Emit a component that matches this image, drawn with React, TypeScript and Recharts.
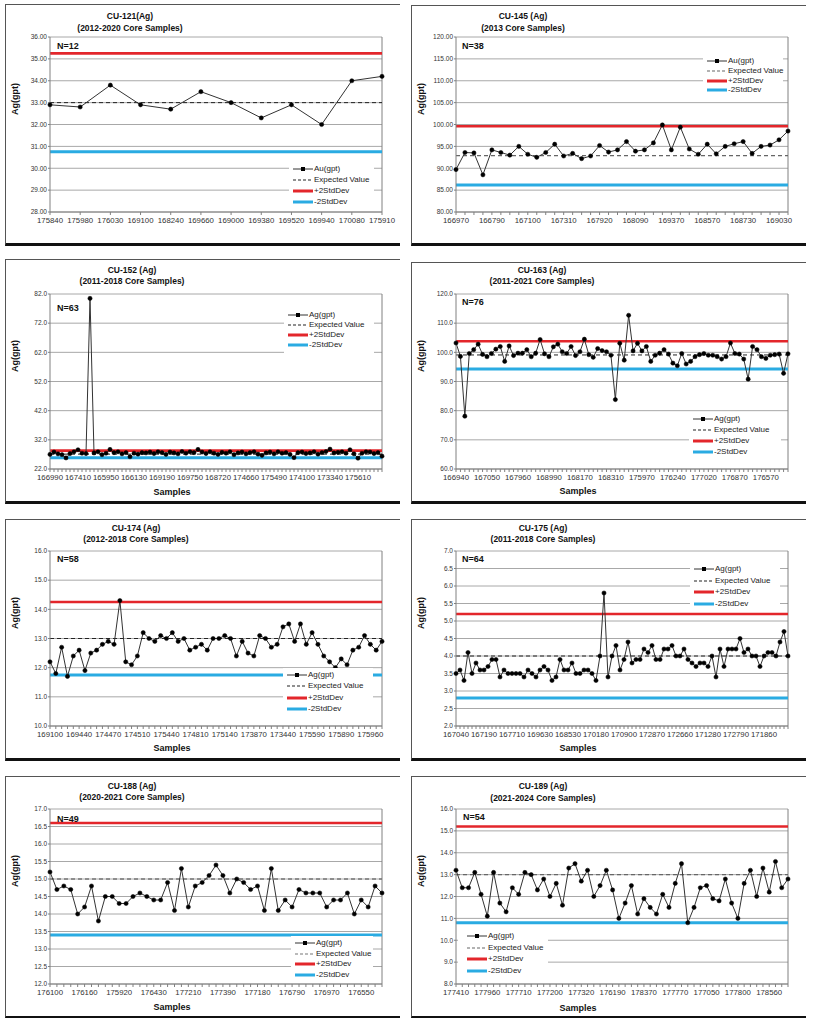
import { CartesianGrid, Line, LineChart, ReferenceLine, XAxis, YAxis } from "recharts";

const FONT = '"Liberation Sans", Arial, sans-serif';

// CU-121 (2012-2020)
const cu121Samples = ["175840", "175980", "176030", "169100", "168240", "169660", "169000", "169380", "169520", "169940", "170080", "175910"];
const cu121Ag = [32.9, 32.8, 33.8, 32.9, 32.7, 33.5, 33.0, 32.3, 32.9, 32.0, 34.0, 34.2];
const cu121Limits = [33.0, 35.25, 30.75];
const cu121Ticks = [28, 29, 30, 31, 32, 33, 34, 35, 36];

// CU-145 (2013)
const cu145Samples = ["166970", "166790", "167100", "167310", "167920", "168090", "169370", "168570", "168730", "169030"];
const cu145Ag = [89.7, 93.6, 93.5, 88.5, 94.2, 93.6, 93.0, 95.0, 93.2, 92.5, 93.6, 95.5, 92.8, 93.4, 92.2, 92.8, 95.2, 93.7, 94.2, 96.1, 93.9, 94.2, 95.8, 99.9, 94.2, 99.4, 94.4, 93.2, 95.5, 93.3, 95.0, 95.6, 96.1, 93.4, 95.0, 95.3, 96.5, 98.5];
const cu145Limits = [92.9, 99.6, 86.2];
const cu145Ticks = [80, 85, 90, 95, 100, 105, 110, 115, 120];

// CU-152 (2011-2018)
const cu152Samples = ["166990", "167410", "165950", "166130", "169190", "169750", "168720", "174660", "175490", "174100", "173340", "175610"];
const cu152Ag = [
  27.0, 27.8, 27.2, 26.9, 25.8, 27.3, 27.9, 28.6, 27.4, 27.3, 80.5, 27.5, 27.9, 26.9, 27.4, 28.7, 27.6, 27.9, 27.2, 27.6,
  26.2, 27.4, 27.1, 27.6, 27.5, 27.8, 27.3, 27.9, 27.6, 27.0, 27.8, 27.5, 27.2, 28.0, 27.4, 27.9, 27.6, 28.7, 27.8, 27.3,
  27.9, 27.4, 27.0, 27.7, 27.4, 27.9, 26.9, 27.5, 27.8, 27.2, 27.6, 27.9, 27.1, 26.7, 27.5, 27.8, 27.2, 27.9, 27.4, 27.6,
  27.0, 25.9, 27.6, 27.8, 27.3, 27.5, 27.9, 27.1, 27.6, 28.0, 28.8, 27.5, 27.7, 27.9, 27.4, 28.6, 27.2, 25.7, 27.4, 27.9,
  27.8, 27.3, 27.6, 26.4,
];
const cu152Limits = [27.1, 28.3, 25.9];
const cu152Ticks = [22, 32, 42, 52, 62, 72, 82];

// CU-163 (2011-2021)
const cu163Samples = ["166940", "167050", "167960", "168990", "168170", "168310", "175970", "176240", "177020", "176870", "176570"];
const cu163Ag = [
  103.2, 98.6, 78.1, 99.6, 100.9, 102.8, 99.3, 98.5, 99.6, 101.1, 102.0, 96.9, 102.2, 98.9, 99.7, 99.7, 100.9, 98.5, 99.7, 104.4,
  99.5, 98.5, 101.9, 102.8, 100.2, 99.6, 102.0, 98.9, 100.2, 104.5, 99.2, 98.3, 101.3, 100.6, 100.2, 99.0, 83.8, 103.1, 97.3, 112.7,
  100.5, 103.1, 100.5, 102.0, 96.9, 99.0, 99.7, 100.9, 99.4, 96.3, 95.4, 99.6, 96.0, 96.9, 98.5, 99.2, 99.6, 99.0, 99.0, 98.5,
  97.7, 98.5, 103.2, 99.6, 99.4, 97.7, 90.8, 102.0, 100.9, 98.5, 97.9, 99.0, 99.2, 99.4, 92.8, 99.5,
];
const cu163Limits = [99.1, 103.8, 94.3];
const cu163Ticks = [60, 70, 80, 90, 100, 110, 120];

// CU-174 (2012-2018)
const cu174Samples = ["169100", "169440", "174470", "174510", "175440", "174810", "175140", "173870", "173440", "175590", "175890", "175960"];
const cu174Ag = [
  12.2, 11.8, 12.7, 11.7, 12.4, 12.6, 11.9, 12.5, 12.6, 12.8, 12.9, 12.8, 14.3, 12.2, 12.1, 12.4, 13.2, 13.0, 12.9, 13.1,
  13.0, 13.2, 12.9, 13.0, 12.6, 12.7, 12.8, 12.6, 13.0, 13.0, 13.1, 13.0, 12.4, 12.9, 12.5, 12.4, 13.1, 13.0, 12.7, 12.8,
  13.4, 13.5, 12.9, 13.5, 12.8, 13.2, 12.8, 12.4, 12.2, 12.0, 12.3, 12.1, 12.6, 12.7, 13.1, 12.8, 12.6, 12.9,
];
const cu174Limits = [13.0, 14.25, 11.75];
const cu174Ticks = [10, 11, 12, 13, 14, 15, 16];

// CU-175 (2011-2018)
const cu175Samples = ["167040", "167190", "167710", "169630", "168530", "170180", "170900", "172870", "172660", "171280", "172790", "171860"];
const cu175Ag = [
  3.5, 3.6, 3.3, 4.1, 3.5, 3.8, 3.6, 3.6, 3.7, 3.9, 3.9, 3.4, 3.6, 3.5, 3.5, 3.5, 3.5, 3.4, 3.6, 3.5,
  3.4, 3.6, 3.7, 3.6, 3.3, 3.4, 3.9, 3.6, 3.6, 3.8, 3.5, 3.5, 3.6, 3.6, 3.5, 3.3, 4.0, 5.8, 3.4, 4.0,
  4.3, 3.6, 3.9, 4.4, 3.8, 3.9, 3.9, 4.2, 4.1, 4.3, 3.9, 3.9, 4.2, 4.2, 4.3, 4.0, 4.0, 4.2, 3.9, 3.8,
  3.7, 3.8, 3.8, 3.7, 4.0, 3.4, 4.2, 3.7, 4.2, 4.2, 4.2, 4.5, 4.1, 4.2, 4.0, 4.0, 3.7, 4.0, 4.1, 4.1,
  4.0, 4.4, 4.7, 4.0,
];
const cu175Limits = [4.0, 5.2, 2.8];
const cu175Ticks = [2, 2.5, 3, 3.5, 4, 4.5, 5, 5.5, 6, 6.5, 7];

// CU-188 (2020-2021)
const cu188Samples = ["176100", "176160", "175920", "176430", "177210", "177390", "177180", "176790", "176970", "176550"];
const cu188Ag = [
  15.2, 14.7, 14.8, 14.7, 14.0, 14.2, 14.8, 13.8, 14.5, 14.5, 14.3, 14.3, 14.5, 14.6, 14.5, 14.4, 14.4, 14.9, 14.1, 15.3,
  14.2, 14.8, 14.9, 15.1, 15.4, 15.1, 14.6, 15.0, 14.9, 14.7, 14.8, 14.1, 15.3, 14.1, 14.4, 14.2, 14.7, 14.6, 14.6, 14.6,
  14.2, 14.4, 14.4, 14.6, 14.0, 14.4, 14.2, 14.8, 14.6,
];
const cu188Limits = [15.0, 16.6, 13.4];
const cu188Ticks = [12, 12.5, 13, 13.5, 14, 14.5, 15, 15.5, 16, 16.5, 17];

// CU-189 (2021-2024)
const cu189Samples = ["177410", "177960", "177710", "177200", "177320", "176190", "178370", "177770", "177050", "177800", "178560"];
const cu189Ag = [
  13.2, 12.4, 12.4, 13.1, 12.1, 11.1, 13.1, 11.7, 11.3, 12.4, 12.1, 13.1, 13.0, 12.3, 12.8, 12.0, 12.6, 11.6, 13.3, 13.5,
  12.7, 13.2, 12.0, 12.5, 13.2, 12.3, 11.0, 11.7, 12.5, 11.2, 11.9, 11.5, 11.2, 12.1, 11.5, 12.6, 13.5, 10.8, 11.5, 12.4,
  12.5, 11.9, 11.8, 12.8, 11.7, 11.0, 12.6, 13.2, 12.0, 13.3, 12.2, 13.6, 12.4, 12.8,
];
const cu189Limits = [13.0, 15.2, 10.8];
const cu189Ticks = [8, 9, 10, 11, 12, 13, 14, 15, 16];

type Legend = { iconX: number; y0: number; gap: number; box: number[] };

type PanelCfg = {
  title: string;
  years: string;
  n: string;
  series: string;
  samples: string[];
  step: number;
  values: number[];
  limits: number[];
  ticks: number[];
  decimals: number;
  left: number;
  top: number;
  height: number;
  bottomW: number;
  plotTop: number;
  titleX: number;
  titleY: number[];
  nPos: number[];
  legend: Legend;
  samplesY?: number;
  expColor: string;
  expWidth: number;
};

const panels: PanelCfg[] = [
  {
    title: "CU-121(Ag)", years: "(2012-2020 Core Samples)", n: "N=12", series: "Au(gpt)",
    samples: cu121Samples, step: 1, values: cu121Ag, limits: cu121Limits, ticks: cu121Ticks, decimals: 2,
    left: 5, top: 4, height: 242, bottomW: 3, plotTop: 36.7, titleX: 130, titleY: [16, 28], nPos: [57, 46],
    legend: { iconX: 293, y0: 169, gap: 11, box: [289, 162, 85, 46] }, expColor: "#222", expWidth: 1,
  },
  {
    title: "CU-145 (Ag)", years: "(2013 Core Samples)", n: "N=38", series: "Au(gpt)",
    samples: cu145Samples, step: 4, values: cu145Ag, limits: cu145Limits, ticks: cu145Ticks, decimals: 2,
    left: 411, top: 5, height: 241, bottomW: 3, plotTop: 36.7, titleX: 523, titleY: [16, 28], nPos: [462, 46],
    legend: { iconX: 707, y0: 61, gap: 9.8, box: [703, 54, 80, 44] }, expColor: "#666", expWidth: 1.2,
  },
  {
    title: "CU-152 (Ag)", years: "(2011-2018 Core Samples)", n: "N=63", series: "Ag(gpt)",
    samples: cu152Samples, step: 7, values: cu152Ag, limits: cu152Limits, ticks: cu152Ticks, decimals: 1,
    left: 5, top: 259, height: 245, bottomW: 3, plotTop: 294.3, titleX: 132, titleY: [270, 281], nPos: [57, 308],
    legend: { iconX: 288, y0: 315, gap: 10, box: [284, 308, 90, 45] }, samplesY: 492, expColor: "#222", expWidth: 1,
  },
  {
    title: "CU-163 (Ag)", years: "(2011-2021 Core Samples)", n: "N=76", series: "Ag(gpt)",
    samples: cu163Samples, step: 7, values: cu163Ag, limits: cu163Limits, ticks: cu163Ticks, decimals: 1,
    left: 411, top: 262, height: 242, bottomW: 3, plotTop: 294, titleX: 542, titleY: [270, 281], nPos: [462, 302],
    legend: { iconX: 693, y0: 419, gap: 11, box: [689, 412, 92, 47] }, samplesY: 491, expColor: "#222", expWidth: 1,
  },
  {
    title: "CU-174 (Ag)", years: "(2012-2018 Core Samples)", n: "N=58", series: "Ag(gpt)",
    samples: cu174Samples, step: 5, values: cu174Ag, limits: cu174Limits, ticks: cu174Ticks, decimals: 1,
    left: 5, top: 519, height: 242, bottomW: 3, plotTop: 551.3, titleX: 136, titleY: [528, 539], nPos: [57, 559],
    legend: { iconX: 287, y0: 675, gap: 11.3, box: [283, 668, 90, 48] }, samplesY: 748, expColor: "#222", expWidth: 1,
  },
  {
    title: "CU-175 (Ag)", years: "(2011-2018 Core Samples)", n: "N=64", series: "Ag(gpt)",
    samples: cu175Samples, step: 7, values: cu175Ag, limits: cu175Limits, ticks: cu175Ticks, decimals: 1,
    left: 411, top: 519, height: 242, bottomW: 3, plotTop: 551.3, titleX: 543, titleY: [528, 539], nPos: [462, 559],
    legend: { iconX: 694, y0: 569, gap: 11.7, box: [690, 562, 90, 49] }, samplesY: 748, expColor: "#222", expWidth: 1,
  },
  {
    title: "CU-188 (Ag)", years: "(2020-2021 Core Samples)", n: "N=49", series: "Ag(gpt)",
    samples: cu188Samples, step: 5, values: cu188Ag, limits: cu188Limits, ticks: cu188Ticks, decimals: 1,
    left: 5, top: 776, height: 242, bottomW: 2, plotTop: 809.3, titleX: 132, titleY: [786, 797], nPos: [57, 819],
    legend: { iconX: 295, y0: 943, gap: 10.7, box: [291, 936, 82, 46] }, samplesY: 1007, expColor: "#777", expWidth: 1.6,
  },
  {
    title: "CU-189 (Ag)", years: "(2021-2024 Core Samples)", n: "N=54", series: "Ag(gpt)",
    samples: cu189Samples, step: 5, values: cu189Ag, limits: cu189Limits, ticks: cu189Ticks, decimals: 1,
    left: 411, top: 776, height: 242, bottomW: 2, plotTop: 809.3, titleX: 543, titleY: [786, 798], nPos: [463, 817],
    legend: { iconX: 467, y0: 936, gap: 11.7, box: [458, 929, 90, 48] }, samplesY: 1008, expColor: "#666", expWidth: 1.2,
  },
];

const RED = "#e3262b";
const CYAN = "#2aabe2";
const AXIS = "#808080";
const GRID = "#a8a8a8";

const PANEL_W = 395;
const AXIS_W = 45;
const PLOT_W = 332;
const PLOT_H = 175;
const MARGIN_TOP = 10;
const XAXIS_H = 22;

function centered(x: number, y: number, size: number, bold = true, extra = {}) {
  return {
    position: "absolute" as const,
    left: x,
    top: y,
    transform: "translate(-50%, -50%)",
    whiteSpace: "nowrap" as const,
    fontSize: size,
    fontWeight: bold ? 700 : 400,
    lineHeight: 1,
    color: "#111",
    ...extra,
  };
}

function LegendIcon({ kind, expColor }: { kind: string; expColor: string }) {
  return (
    <svg width={20} height={10} style={{ display: "block" }}>
      {kind === "data" && (
        <>
          <line x1={0} y1={5} x2={20} y2={5} stroke="#333" strokeWidth={1} />
          <rect x={8} y={3} width={4} height={4} fill="#000" />
        </>
      )}
      {kind === "exp" && (
        <line x1={0} y1={5} x2={20} y2={5} stroke={expColor} strokeWidth={1.2} strokeDasharray="3 2" />
      )}
      {kind === "hi" && <line x1={0} y1={5} x2={20} y2={5} stroke={RED} strokeWidth={3} />}
      {kind === "lo" && <line x1={0} y1={5} x2={20} y2={5} stroke={CYAN} strokeWidth={3} />}
    </svg>
  );
}

function LegendBox({ cfg }: { cfg: PanelCfg }) {
  const { iconX, y0, gap, box } = cfg.legend;
  const rows = [
    { kind: "data", text: cfg.series },
    { kind: "exp", text: "Expected Value" },
    { kind: "hi", text: "+2StdDev" },
    { kind: "lo", text: "-2StdDev" },
  ];
  return (
    <div
      style={{
        position: "absolute",
        left: box[0],
        top: box[1],
        width: box[2],
        height: box[3],
        background: "#fff",
      }}
    >
      {rows.map((r, k) => (
        <div
          key={r.kind}
          style={{
            position: "absolute",
            left: iconX - box[0],
            top: y0 + k * gap - box[1] - 5,
            height: 10,
            display: "flex",
            alignItems: "center",
            whiteSpace: "nowrap",
          }}
        >
          <LegendIcon kind={r.kind} expColor={cfg.expColor} />
          <span style={{ fontSize: 8, lineHeight: "10px", marginLeft: 1, color: "#222" }}>{r.text}</span>
        </div>
      ))}
    </div>
  );
}

function Panel({ cfg }: { cfg: PanelCfg }) {
  const data = cfg.values.map((v, i) => ({ i, v }));
  const [expected, plus2, minus2] = cfg.limits;
  const yMin = cfg.ticks[0];
  const yMax = cfg.ticks[cfg.ticks.length - 1];

  const renderTick = (props: any) => {
    const { x, y, payload } = props;
    const idx = Number(payload?.value);
    if (idx % cfg.step !== 0) return <g />;
    const label = cfg.samples[idx / cfg.step];
    if (!label) return <g />;
    return (
      <text x={x} y={y} dy="0.71em" textAnchor="middle" fontSize={7.8} fill="#333" fontFamily={FONT}>
        {label}
      </text>
    );
  };

  return (
    <>
      <div
        style={{
          position: "absolute",
          left: cfg.left,
          top: cfg.top,
          width: PANEL_W,
          height: cfg.height,
          boxSizing: "border-box",
          borderTop: "1px solid #555",
          borderLeft: "1px solid #555",
          borderBottom: `${cfg.bottomW}px solid #111`,
        }}
      />
      <div style={{ position: "absolute", left: cfg.left, top: cfg.plotTop - MARGIN_TOP }}>
        <LineChart
          width={PANEL_W}
          height={MARGIN_TOP + PLOT_H + XAXIS_H}
          data={data}
          margin={{ top: MARGIN_TOP, right: PANEL_W - AXIS_W - PLOT_W, bottom: 0, left: 0 }}
        >
          <CartesianGrid vertical={false} stroke={GRID} />
          <XAxis
            dataKey="i"
            type="category"
            scale="point"
            interval={0}
            height={XAXIS_H}
            tick={renderTick}
            tickSize={3}
            tickMargin={2}
            tickLine={{ stroke: AXIS }}
            axisLine={{ stroke: AXIS }}
            padding={{ left: 0, right: 0 }}
          />
          <YAxis
            type="number"
            domain={[yMin, yMax]}
            ticks={cfg.ticks}
            interval={0}
            width={AXIS_W}
            tickFormatter={(v: number) => v.toFixed(cfg.decimals)}
            tick={{ fontSize: 6.5, fill: "#333", fontFamily: FONT }}
            tickSize={2}
            tickMargin={1}
            tickLine={{ stroke: AXIS }}
            axisLine={{ stroke: AXIS }}
          />
          <ReferenceLine x={data.length - 1} stroke={AXIS} />
          <ReferenceLine y={plus2} stroke={RED} strokeWidth={2.6} />
          <ReferenceLine y={minus2} stroke={CYAN} strokeWidth={3} />
          <ReferenceLine y={expected} stroke={cfg.expColor} strokeWidth={cfg.expWidth} strokeDasharray="4 3" />
          <Line
            type="linear"
            dataKey="v"
            stroke="#333"
            strokeWidth={1}
            dot={{ r: 2.1, fill: "#000", stroke: "#000", strokeWidth: 0.5 }}
            isAnimationActive={false}
          />
        </LineChart>
      </div>
      <LegendBox cfg={cfg} />
      <div style={centered(cfg.titleX, cfg.titleY[0], 8.5)}>{cfg.title}</div>
      <div style={centered(cfg.titleX, cfg.titleY[1], 8.5)}>{cfg.years}</div>
      <div
        style={{
          position: "absolute",
          left: cfg.nPos[0],
          top: cfg.nPos[1] - 5,
          fontSize: 9,
          fontWeight: 700,
          lineHeight: "10px",
          color: "#111",
          whiteSpace: "nowrap",
        }}
      >
        {cfg.n}
      </div>
      <div
        style={centered(cfg.left + 10, cfg.plotTop + 62, 9, true, {
          transform: "translate(-50%, -50%) rotate(-90deg)",
        })}
      >
        Ag(gpt)
      </div>
      {cfg.samplesY !== undefined && (
        <div style={centered(cfg.left + 167, cfg.samplesY, 9)}>Samples</div>
      )}
    </>
  );
}

export default function App() {
  return (
    <div
      style={{
        position: "absolute",
        left: 0,
        top: 0,
        width: 817,
        height: 1024,
        background: "#fff",
        fontFamily: FONT,
        overflow: "hidden",
      }}
    >
      {panels.map((cfg) => (
        <Panel key={cfg.title} cfg={cfg} />
      ))}
    </div>
  );
}
